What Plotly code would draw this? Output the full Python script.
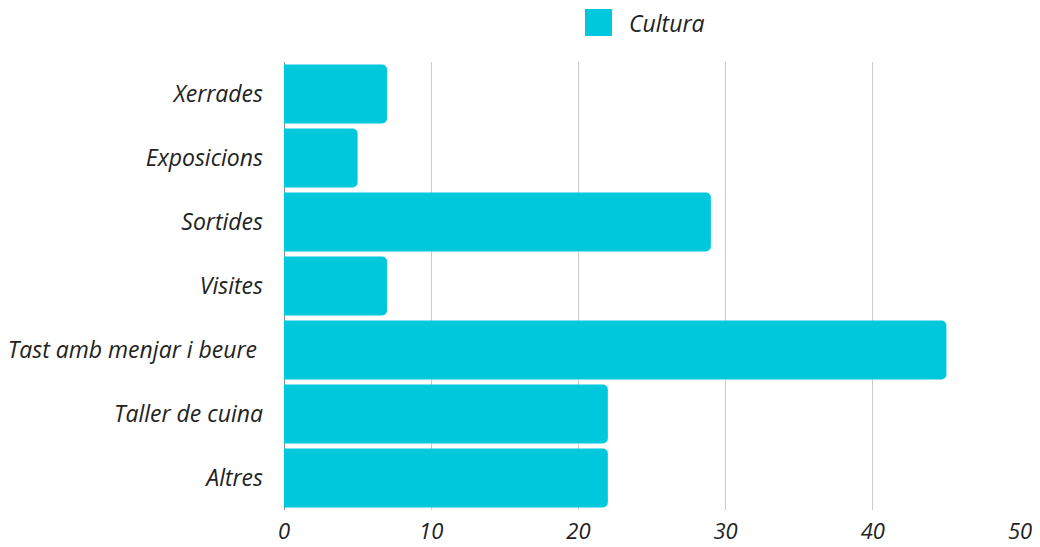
import plotly.graph_objects as go

categories = ["Xerrades", "Exposicions", "Sortides", "Visites",
              "Tast amb menjar i beure ", "Taller de cuina", "Altres"]
values = [7, 5, 29, 7, 45, 22, 22]
series_name = "Cultura"
tick_vals = [0, 10, 20, 30, 40, 50]

color = "#00C8DC"
font_family = "Open Sans"

# page body has an 8px margin: compensate so the plot lands where the reference has it
W, H = 1032, 539
L, R, T, B = 276, 20, 54, 37
pw, ph = W - L - R, H - T - B

fig = go.Figure()
fig.add_trace(go.Bar(
    y=categories, x=values, orientation="h", name=series_name,
    marker=dict(color=color, line=dict(width=0)),
    showlegend=False,
))

fig.update_layout(
    width=W, height=H,
    margin=dict(l=L, r=R, t=T, b=B, autoexpand=False),
    paper_bgcolor="white", plot_bgcolor="white",
    bargap=0.08, barcornerradius=5,
    font=dict(family=font_family, size=23, color="#222"),
    xaxis=dict(range=[0, 50], tickvals=tick_vals, showgrid=True,
               gridcolor="#cccccc", gridwidth=1, zeroline=True,
               zerolinecolor="#888888", zerolinewidth=1,
               tickfont=dict(family=font_family, size=22, style="italic"),
               ticklabelstandoff=6, fixedrange=True, automargin=False),
    yaxis=dict(autorange="reversed", showgrid=False, automargin=False,
               tickfont=dict(family=font_family, size=23, style="italic"),
               ticklabelstandoff=20),
    shapes=[dict(type="rect", xref="paper", yref="paper",
                 x0=(585 - 284) / pw, x1=(612 - 284) / pw,
                 y0=1 + (62 - 36) / ph, y1=1 + (62 - 9) / ph,
                 fillcolor=color, line=dict(width=0))],
    annotations=[dict(text=series_name, xref="paper", yref="paper",
                      x=(627 - 284) / pw, y=1 + (62 - 23) / ph,
                      xanchor="left", yanchor="middle", showarrow=False,
                      font=dict(family=font_family, size=23, style="italic",
                                color="#222"))],
)

fig.write_html("out.html")
